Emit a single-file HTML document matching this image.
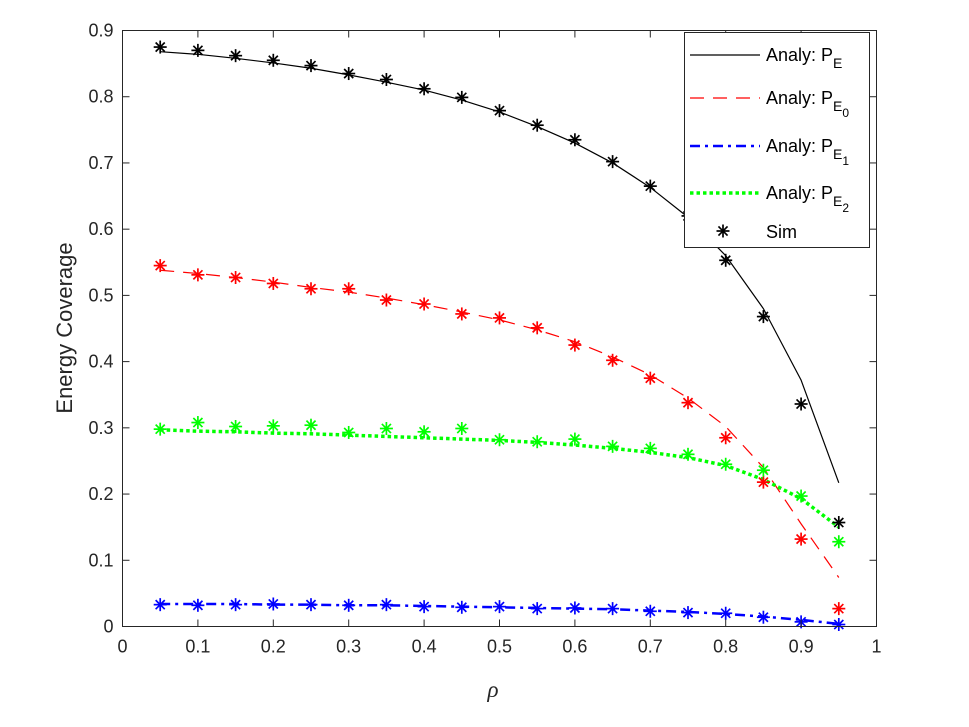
<!DOCTYPE html>
<html><head><meta charset="utf-8"><style>
body{margin:0;background:#fff;}
svg{display:block;font-family:"Liberation Sans",sans-serif;}
</style></head><body>
<svg id="chart" width="969" height="727">
<rect x="0" y="0" width="969" height="727" fill="#fff"/>
<g id="plot"></g>
<g id="axes"></g>
<text x="72" y="328" font-size="22" text-anchor="middle" transform="rotate(-90 72 328)" fill="#262626">Energy Coverage</text>
<text x="493" y="697" font-size="23" font-style="italic" font-family="Liberation Serif, serif" text-anchor="middle" fill="#262626">ρ</text>
<g id="legend"></g>
</svg>
<script>
const xs=[0.05,0.1,0.15,0.2,0.25,0.3,0.35,0.4,0.45,0.5,0.55,0.6,0.65,0.7,0.75,0.8,0.85,0.9,0.95];
const lineE=[0.868,0.864,0.858,0.851,0.843,0.833,0.822,0.810,0.795,0.777,0.755,0.730,0.700,0.663,0.618,0.560,0.480,0.372,0.217];
const lineE0=[0.538,0.533,0.527,0.520,0.512,0.505,0.496,0.486,0.475,0.463,0.448,0.430,0.407,0.380,0.345,0.302,0.240,0.155,0.074];
const lineE1=[0.034,0.034,0.034,0.033,0.033,0.032,0.032,0.031,0.030,0.029,0.028,0.027,0.026,0.024,0.022,0.019,0.015,0.010,0.004];
const lineE2=[0.297,0.295,0.294,0.292,0.291,0.289,0.287,0.285,0.283,0.281,0.278,0.274,0.269,0.263,0.255,0.243,0.222,0.193,0.150];
const simE=[0.875,0.870,0.862,0.855,0.847,0.835,0.826,0.812,0.799,0.779,0.757,0.735,0.702,0.665,0.620,0.553,0.468,0.336,0.157];
const simE0=[0.545,0.531,0.527,0.518,0.510,0.510,0.493,0.487,0.472,0.466,0.451,0.425,0.402,0.375,0.338,0.285,0.218,0.132,0.027];
const simE1=[0.033,0.032,0.033,0.034,0.033,0.032,0.033,0.030,0.029,0.030,0.027,0.028,0.027,0.023,0.021,0.020,0.014,0.007,0.003];
const simE2=[0.298,0.308,0.302,0.303,0.304,0.293,0.299,0.294,0.299,0.282,0.279,0.283,0.272,0.269,0.260,0.245,0.236,0.197,0.128];
const xTicks=[0,0.1,0.2,0.3,0.4,0.5,0.6,0.7,0.8,0.9,1];
const xTickLabels=['0','0.1','0.2','0.3','0.4','0.5','0.6','0.7','0.8','0.9','1'];
const yTicks=[0,0.1,0.2,0.3,0.4,0.5,0.6,0.7,0.8,0.9];
const yTickLabels=['0','0.1','0.2','0.3','0.4','0.5','0.6','0.7','0.8','0.9'];
const L=122.5,R=876.5,T=30.5,B=626.5;
const X=v=>L+(R-L)*v, Y=v=>B-(B-T)*v/0.9;
const NS='http://www.w3.org/2000/svg';
function mk(tag,attrs,parent){const e=document.createElementNS(NS,tag);for(const k in attrs)e.setAttribute(k,attrs[k]);parent.appendChild(e);return e;}
const plot=document.getElementById('plot'),axes=document.getElementById('axes'),leg=document.getElementById('legend');
function star(cx,cy,col,parent,name){
  const g=mk('g',{stroke:col,'stroke-width':1.7},parent);
  
  
  const r=6.5;
  mk('line',{x1:cx-r,y1:cy,x2:cx+r,y2:cy},g);
  mk('line',{x1:cx,y1:cy-r,x2:cx,y2:cy+r},g);
  mk('line',{x1:cx-r*0.7,y1:cy-r*0.7,x2:cx+r*0.7,y2:cy+r*0.7},g);
  mk('line',{x1:cx-r*0.7,y1:cy+r*0.7,x2:cx+r*0.7,y2:cy-r*0.7},g);
}
const series=[
 {line:lineE,sim:simE,col:'#000',w:1.2,dash:'',name:'pe'},
 {line:lineE0,sim:simE0,col:'#f00',w:1.2,dash:'14 9',name:'pe0'},
 {line:lineE1,sim:simE1,col:'#00f',w:2.5,dash:'10 5 3 5',name:'pe1'},
 {line:lineE2,sim:simE2,col:'#0f0',w:3.5,dash:'3.5 3',name:'pe2'}];
series.forEach(s=>{
  const p=mk('polyline',{points:xs.map((x,i)=>X(x)+','+Y(s.line[i])).join(' '),fill:'none',stroke:s.col,'stroke-width':s.w,'stroke-dasharray':s.dash},plot);
  
  
});
series.forEach(s=>{
  xs.forEach((x,i)=>star(X(x),Y(s.sim[i]),s.col,plot,'sim-marker-'+s.name));
});
const box=mk('rect',{x:L,y:T,width:R-L,height:B-T,fill:'none',stroke:'#262626','stroke-width':1},axes);


xTicks.forEach((v,i)=>{
  mk('line',{x1:X(v),y1:B,x2:X(v),y2:B-7,stroke:'#262626'},axes);
  mk('line',{x1:X(v),y1:T,x2:X(v),y2:T+7,stroke:'#262626'},axes);
  const t=mk('text',{x:X(v),y:B+26,'font-size':18,'text-anchor':'middle',fill:'#262626'},axes);
  t.textContent=xTickLabels[i];
  
  
});
yTicks.forEach((v,i)=>{
  mk('line',{x1:L,y1:Y(v),x2:L+7,y2:Y(v),stroke:'#262626'},axes);
  mk('line',{x1:R,y1:Y(v),x2:R-7,y2:Y(v),stroke:'#262626'},axes);
  const t=mk('text',{x:L-9,y:Y(v)+6,'font-size':18,'text-anchor':'end',fill:'#262626'},axes);
  t.textContent=yTickLabels[i];
  
  
});
const lb=mk('rect',{x:684.5,y:32.5,width:185,height:215,fill:'#fff',stroke:'#262626','stroke-width':1},leg);


const rowsY=[55,98,146,193];
series.forEach((s,i)=>{
  const y=rowsY[i];
  mk('line',{x1:690,y1:y,x2:760,y2:y,stroke:s.col,'stroke-width':s.w,'stroke-dasharray':s.dash},leg);
  const t=mk('text',{x:766,y:y+6,'font-size':18,fill:'#000'},leg);
  
  
  t.appendChild(document.createTextNode('Analy: P'));
  const ts=mk('tspan',{'font-size':14,dy:7},t); ts.textContent='E';
  if(i>0){const t2=mk('tspan',{'font-size':12,dy:6},t);t2.textContent=String(i-1);}
});
star(723,231,'#000',leg,'legend-sim-marker');
const st=mk('text',{x:766,y:238,'font-size':18,fill:'#000'},leg);
st.textContent='Sim';


</script>
</body></html>
